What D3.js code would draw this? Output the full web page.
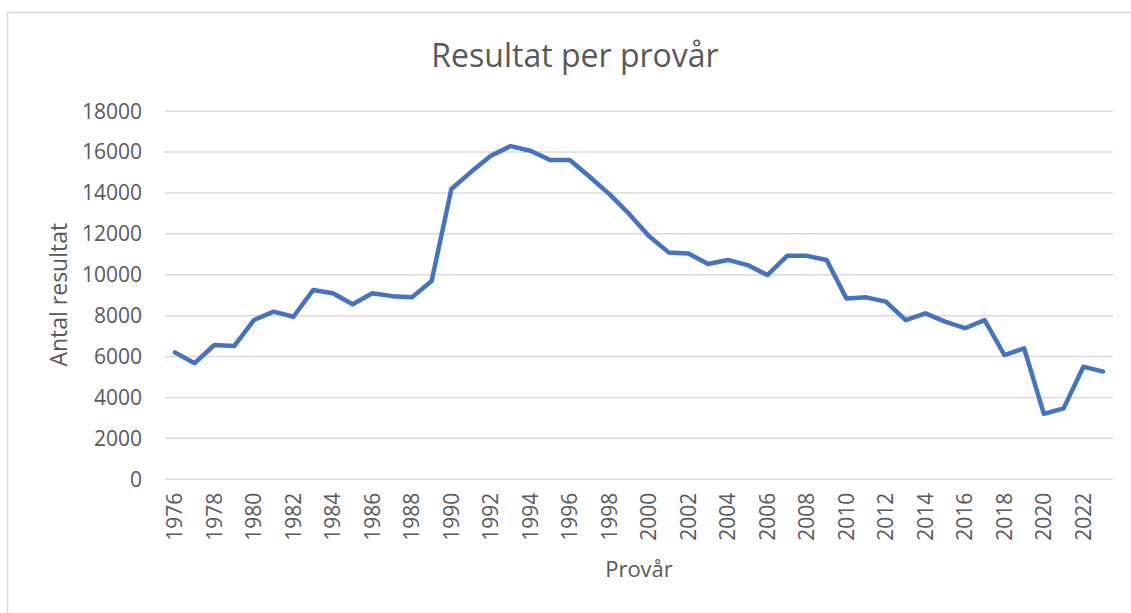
<!DOCTYPE html>
<html>
<head>
<meta charset="utf-8">
<script src="https://cdn.jsdelivr.net/npm/d3@7"></script>
<style>
  body { margin: 0; background: #fff; }
  svg { display: block; }
</style>
</head>
<body>
<div id="chart"></div>
<script>
// data
var years = [1976, 1977, 1978, 1979, 1980, 1981, 1982, 1983, 1984, 1985,
  1986, 1987, 1988, 1989, 1990, 1991, 1992, 1993, 1994, 1995,
  1996, 1997, 1998, 1999, 2000, 2001, 2002, 2003, 2004, 2005,
  2006, 2007, 2008, 2009, 2010, 2011, 2012, 2013, 2014, 2015,
  2016, 2017, 2018, 2019, 2020, 2021, 2022, 2023];
var results = [6180, 5650, 6540, 6490, 7760, 8170, 7920, 9230, 9070, 8530,
  9070, 8930, 8870, 9670, 14170, 15010, 15800, 16270, 16040, 15590,
  15590, 14770, 13920, 12950, 11870, 11070, 11020, 10500, 10700, 10450,
  9960, 10900, 10900, 10700, 8820, 8870, 8660, 7760, 8090, 7680,
  7360, 7760, 6050, 6380, 3170, 3440, 5480, 5240];
var yTicks = [0, 2000, 4000, 6000, 8000, 10000, 12000, 14000, 16000, 18000];
var xTickYears = years.filter(function(y) { return y % 2 === 0; });

var svgWidth = 1131;
var svgHeight = 613;

var margin = { top: 110.7, right: 18, bottom: 134.3, left: 165 };
var width = svgWidth - margin.left - margin.right;
var height = svgHeight - margin.top - margin.bottom;

var font = "'Open Sans', 'Liberation Sans', sans-serif";
var textColor = "#595959";

var svg = d3.select("#chart")
  .append("svg")
  .attr("width", svgWidth)
  .attr("height", svgHeight);

// chart area border (runs off the right and bottom of the picture)
svg.append("rect")
  .attr("x", 7.5)
  .attr("y", 12.5)
  .attr("width", svgWidth + 20)
  .attr("height", svgHeight + 20)
  .attr("fill", "none")
  .attr("stroke", "#d9d9d9")
  .attr("stroke-width", 1.5);

var chartGroup = svg.append("g")
  .attr("transform", `translate(${margin.left}, ${margin.top})`);

var xScale = d3.scaleBand()
  .domain(years)
  .range([0, width])
  .padding(0);

var yScale = d3.scaleLinear()
  .domain([0, 18000])
  .range([height, 0]);

// y axis + gridlines
var yAxis = d3.axisLeft(yScale)
  .tickValues(yTicks)
  .tickSize(-width)
  .tickPadding(23)
  .tickFormat(d3.format("d"));

var yG = chartGroup.append("g").call(yAxis);
yG.select(".domain").remove();
yG.selectAll(".tick line")
  .attr("stroke", "#d9d9d9")
  .attr("stroke-width", 1.5);
yG.selectAll(".tick text")
  .attr("fill", textColor)
  .attr("dy", "0.35em")
  .style("font-family", font)
  .style("font-size", "21px");

// x axis, labels rotated
var xAxis = d3.axisBottom(xScale)
  .tickValues(xTickYears)
  .tickSize(0)
  .tickPadding(0);

var xG = chartGroup.append("g")
  .attr("transform", `translate(0, ${height})`)
  .call(xAxis);
xG.select(".domain").remove();
xG.selectAll(".tick text")
  .attr("transform", "rotate(-90)")
  .attr("x", -14)
  .attr("y", 0)
  .attr("dy", "0.35em")
  .style("text-anchor", "end")
  .attr("fill", textColor)
  .style("font-family", font)
  .style("font-size", "21px");

// the line
var line = d3.line()
  .x(function(d, i) { return xScale(years[i]) + xScale.bandwidth() / 2; })
  .y(function(d) { return yScale(d); });

chartGroup.append("path")
  .datum(results)
  .attr("d", line)
  .attr("fill", "none")
  .attr("stroke", "#4472c4")
  .attr("stroke-width", 4.5)
  .attr("stroke-linejoin", "round")
  .attr("stroke-linecap", "round");

// title, centred on the whole chart area
svg.append("text")
  .attr("x", 575)
  .attr("y", 67)
  .style("text-anchor", "middle")
  .style("font-family", font)
  .style("font-size", "32px")
  .attr("fill", textColor)
  .text("Resultat per provår");

// x axis title
svg.append("text")
  .attr("x", margin.left + width / 2)
  .attr("y", 577)
  .style("text-anchor", "middle")
  .style("font-family", font)
  .style("font-size", "22px")
  .attr("fill", textColor)
  .text("Provår");

// y axis title
svg.append("text")
  .attr("transform", "rotate(-90)")
  .attr("x", -(margin.top + height / 2))
  .attr("y", 67)
  .style("text-anchor", "middle")
  .style("font-family", font)
  .style("font-size", "23px")
  .attr("fill", textColor)
  .text("Antal resultat");
</script>
</body>
</html>
